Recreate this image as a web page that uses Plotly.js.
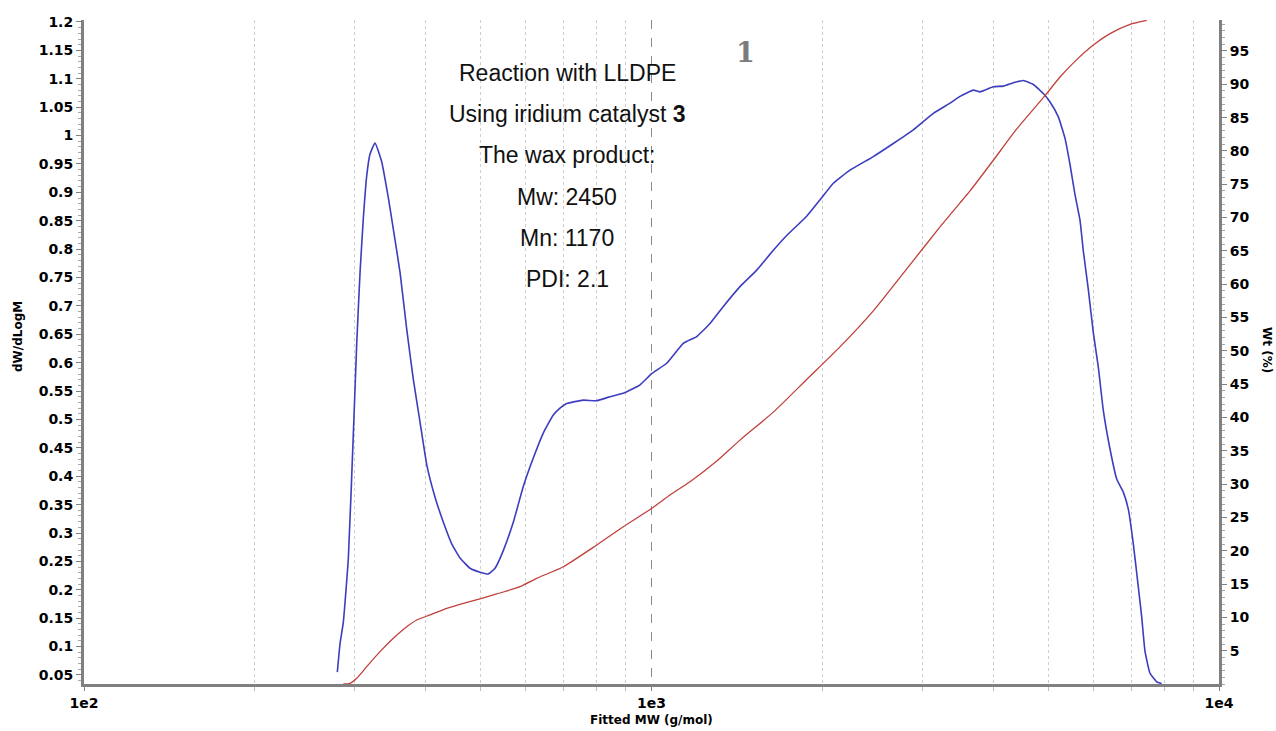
<!DOCTYPE html>
<html>
<head>
<meta charset="utf-8">
<script src="https://cdn.plot.ly/plotly-3.0.1.min.js"></script>
<style>
  html, body { margin: 0; padding: 0; background: #fff; }
  #chart { width: 1276px; height: 731px; }
</style>
</head>
<body>
<div id="chart"></div>
<script>
// GPC trace of the wax product: differential distribution (left axis)
// and cumulative weight fraction (right axis) against fitted molecular weight.
const blueMW = [279.5, 282.6, 286.4, 292.3, 298.3, 302.4, 306.5, 310.6, 314.9, 319.1,
  325.7, 334.6, 343.7, 350.8, 360.5, 370.4, 380.4, 391.0, 401.8, 415.5,
  429.8, 444.6, 459.9, 478.9, 498.7, 515.8, 530.0, 548.1, 570.8, 594.4,
  619.0, 644.6, 671.3, 689.8, 708.8, 758.2, 800.6, 845.0, 891.9, 954.6,
  1001.6, 1063.6, 1137.7, 1201.3, 1268.0, 1338.3, 1432.0, 1532.5, 1639.3, 1730.9,
  1876.8, 1981.8, 2091.5, 2237.5, 2459.6, 2667.5, 2893.1, 3137.6, 3357.6, 3496.6,
  3690.6, 3792.3, 4003.0, 4168.7, 4341.3, 4520.9, 4708.4, 4902.9, 5038.0, 5210.6,
  5353.9, 5463.2, 5575.3, 5689.5, 5766.2, 5884.4, 6005.1, 6128.1, 6253.8, 6425.9,
  6603.5, 6782.2, 6921.3, 7063.0, 7208.0, 7308.0, 7406.0, 7557.7, 7766.0, 7925.0];

const dWdLogM = [0.055, 0.105, 0.143, 0.256, 0.476, 0.634, 0.759, 0.854, 0.929, 0.967,
  0.987, 0.954, 0.891, 0.835, 0.759, 0.659, 0.571, 0.495, 0.420, 0.363,
  0.319, 0.281, 0.256, 0.238, 0.231, 0.228, 0.238, 0.269, 0.319, 0.382,
  0.432, 0.476, 0.508, 0.520, 0.528, 0.534, 0.533, 0.540, 0.546, 0.561,
  0.581, 0.599, 0.634, 0.646, 0.669, 0.699, 0.734, 0.763, 0.798, 0.824,
  0.858, 0.887, 0.916, 0.939, 0.963, 0.986, 1.010, 1.039, 1.057, 1.069,
  1.080, 1.077, 1.086, 1.087, 1.093, 1.097, 1.090, 1.074, 1.059, 1.033,
  0.995, 0.949, 0.896, 0.851, 0.797, 0.729, 0.653, 0.592, 0.516, 0.448,
  0.395, 0.372, 0.342, 0.281, 0.205, 0.152, 0.092, 0.053, 0.038, 0.035];

const cumMW = [286.4, 294.3, 302.4, 314.9, 332.4, 350.8, 370.4, 385.7, 407.2, 435.7,
  466.1, 502.2, 533.6, 586.5, 627.6, 699.1, 800.6, 891.9, 1001.6, 1078.0,
  1169.1, 1300.0, 1432.0, 1639.3, 1876.8, 2148.7, 2459.6, 2817.0, 3224.0, 3496.6,
  3641.6, 4003.0, 4401.4, 4936.8, 5246.6, 5613.8, 6005.1, 6425.9, 6969.5, 7457.2];

const cumWt = [0, 0.1, 0.86, 2.60, 4.85, 6.86, 8.60, 9.61, 10.36, 11.36,
  12.11, 12.86, 13.51, 14.60, 15.86, 17.60, 20.86, 23.61, 26.37, 28.37,
  30.36, 33.4, 36.6, 40.8, 45.7, 50.6, 56.0, 62.3, 68.6, 72.2,
  74.0, 78.6, 83.3, 88.3, 91.1, 93.7, 95.9, 97.6, 99.0, 99.6];

// Tick labels
const xTickVals = [100, 1000, 10000];
const xTickText = ['1e2', '1e3', '1e4'];
const xMinorVals = [200, 300, 400, 500, 600, 700, 800, 900,
  2000, 3000, 4000, 5000, 6000, 7000, 8000, 9000];
const yLeftTickText = ['0.05', '0.1', '0.15', '0.2', '0.25', '0.3', '0.35', '0.4', '0.45', '0.5',
  '0.55', '0.6', '0.65', '0.7', '0.75', '0.8', '0.85', '0.9', '0.95', '1',
  '1.05', '1.1', '1.15', '1.2'];
const yLeftTickVals = yLeftTickText.map(Number);
const yRightTickText = ['5', '10', '15', '20', '25', '30', '35', '40', '45', '50',
  '55', '60', '65', '70', '75', '80', '85', '90', '95'];
const yRightTickVals = yRightTickText.map(Number);

// Text block inside the plot
const infoLines = ['Reaction with LLDPE', 'Using iridium catalyst <b>3</b>', 'The wax product:',
  'Mw: 2450', 'Mn: 1170', 'PDI: 2.1'];

const axisGray = '#808080';
const tickFont = { family: 'DejaVu Sans', size: 14, color: '#000', weight: 'bold' };
const titleFont = { family: 'DejaVu Sans', size: 12, color: '#000', weight: 'bold' };

const traces = [
  {
    x: blueMW, y: dWdLogM, type: 'scatter', mode: 'lines', yaxis: 'y',
    line: { color: '#3d3dbf', width: 1.6, shape: 'spline', smoothing: 0.4 }, hoverinfo: 'skip'
  },
  {
    x: cumMW, y: cumWt, type: 'scatter', mode: 'lines', yaxis: 'y2',
    line: { color: '#c0403c', width: 1.3, shape: 'spline', smoothing: 0.6 }, hoverinfo: 'skip'
  }
];

const annotations = infoLines.map((t, i) => ({
  text: t, xref: 'paper', yref: 'paper', x: 0.4256, y: 0.9202 - i * 0.0621,
  xanchor: 'center', yanchor: 'middle', showarrow: false,
  font: { family: 'Liberation Sans, Arial, sans-serif', size: 23, color: '#111' }
}));

annotations.push(
  { text: '1', xref: 'paper', yref: 'paper', x: 0.5824, y: 0.9518, showarrow: false,
    xanchor: 'center', yanchor: 'middle',
    font: { family: 'DejaVu Serif', size: 27, color: '#7c7c7c', weight: 'bold' } },
  { text: 'Fitted MW (g/mol)', xref: 'paper', yref: 'paper', x: 0.5, y: -0.0542, showarrow: false,
    xanchor: 'center', yanchor: 'middle', font: titleFont },
  { text: 'dW/dLogM', xref: 'paper', yref: 'paper', x: -0.0581, y: 0.5226, showarrow: false,
    textangle: -90, xanchor: 'center', yanchor: 'middle', font: titleFont },
  { text: 'Wt (%)', xref: 'paper', yref: 'paper', x: 1.0423, y: 0.503, showarrow: false,
    textangle: 90, xanchor: 'center', yanchor: 'middle', font: titleFont }
);

const layout = {
  width: 1276, height: 731,
  margin: { l: 84, r: 57, t: 20, b: 47, pad: 0 },
  paper_bgcolor: '#ffffff', plot_bgcolor: '#ffffff',
  showlegend: false,
  xaxis: {
    type: 'log', range: [2, 4], tickmode: 'array', tickvals: xTickVals, ticktext: xTickText,
    ticks: 'outside', ticklen: 4, tickcolor: axisGray, tickfont: tickFont,
    showline: true, linecolor: axisGray, linewidth: 3, mirror: false,
    showgrid: true, gridcolor: '#8a8a8a', griddash: 'dash', gridwidth: 1, zeroline: false,
    minor: { tickmode: 'array', tickvals: xMinorVals, showgrid: true, gridcolor: '#cdcdcd',
      griddash: 'dot', gridwidth: 1, ticks: 'outside', ticklen: 4, tickcolor: '#bdbdbd' }
  },
  yaxis: {
    range: [0.0341, 1.2035], tickmode: 'array', tickvals: yLeftTickVals, ticktext: yLeftTickText,
    ticks: 'outside', ticklen: 5, tickcolor: axisGray, tickfont: tickFont,
    showline: true, linecolor: axisGray, linewidth: 3, showgrid: false, zeroline: false,
    minor: { tickmode: 'linear', tick0: 0, dtick: 0.01, ticks: 'outside', ticklen: 3,
      tickcolor: '#a8a8a8', showgrid: false }
  },
  yaxis2: {
    overlaying: 'y', side: 'right', range: [0, 99.65], tickmode: 'array',
    tickvals: yRightTickVals, ticktext: yRightTickText,
    ticks: 'outside', ticklen: 5, tickcolor: axisGray, tickfont: tickFont,
    showline: true, linecolor: axisGray, linewidth: 3, showgrid: false, zeroline: false,
    minor: { tickmode: 'linear', tick0: 0, dtick: 1, ticks: 'outside', ticklen: 3,
      tickcolor: '#a8a8a8', showgrid: false }
  },
  annotations: annotations
};

Plotly.newPlot('chart', traces, layout, { displayModeBar: false, staticPlot: true });
</script>
</body>
</html>
